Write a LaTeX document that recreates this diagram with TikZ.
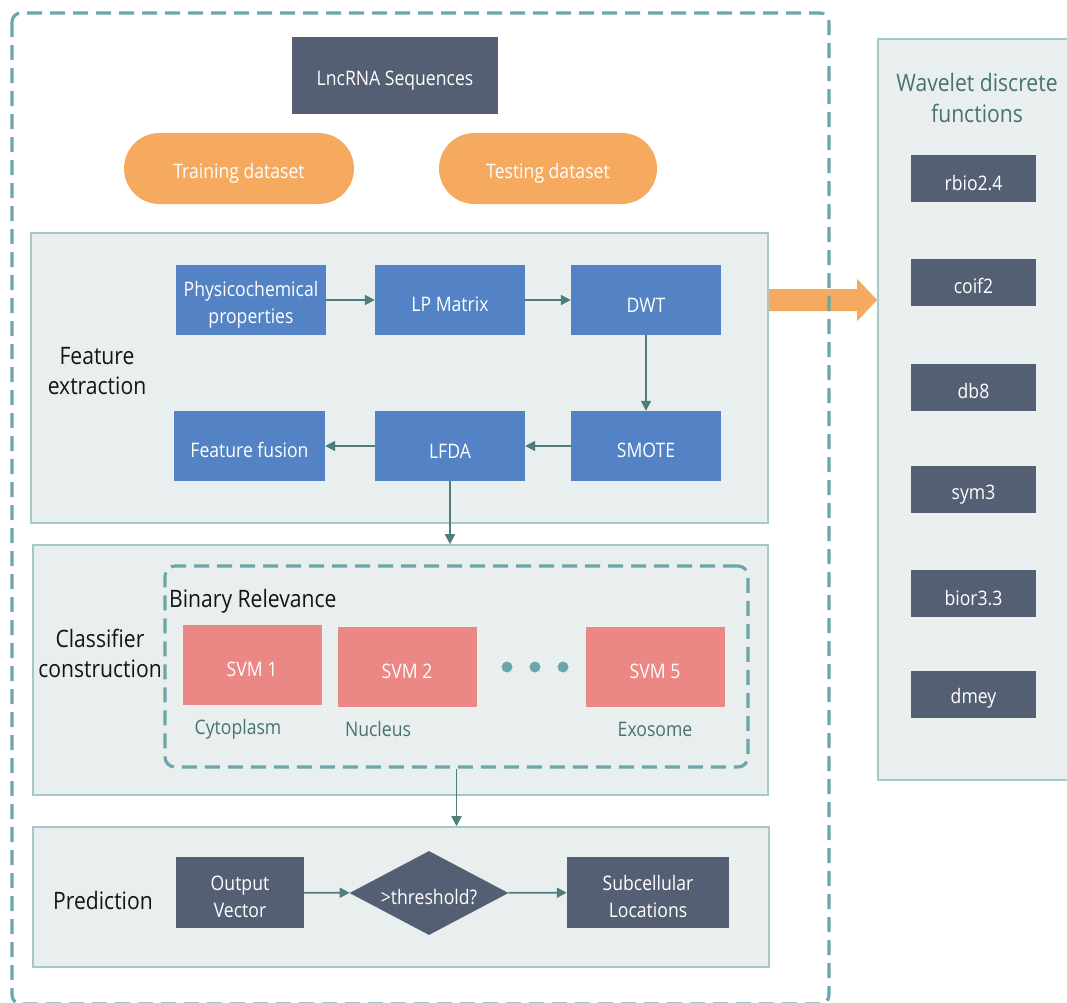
\documentclass[tikz,border=0pt]{standalone}
\usepackage{fontspec}
\setmainfont{Open Sans}[FakeStretch=0.88]
\usetikzlibrary{shapes.geometric,arrows.meta,calc}

\definecolor{slate}{HTML}{555F73}
\definecolor{peach}{HTML}{F5AA60}
\definecolor{steel}{HTML}{5383C4}
\definecolor{salmon}{HTML}{EB8784}
\definecolor{panelfill}{HTML}{E9EFEF}
\definecolor{panelline}{HTML}{A5C8CB}
\definecolor{dashteal}{HTML}{6BA6AB}
\definecolor{arrowteal}{HTML}{4F7C7C}
\definecolor{labelteal}{HTML}{48716F}

\newcommand\fsz[2]{\fontsize{#1}{#2}\selectfont}
% invisible rule that lowers box text a little inside its box
\newcommand\lowerstrut{\vrule height 1.2em depth 0pt width 0pt}

\tikzset{
  panel/.style={rectangle, draw=panelline, fill=panelfill, line width=1.6pt, inner sep=0pt},
  blk/.style={rectangle, inner sep=0pt, text=white, align=center, font=\fsz{20}{27},
              execute at begin node=\lowerstrut},
  bluebox/.style={blk, fill=steel, minimum width=150pt, minimum height=70pt},
  slatebox/.style={blk, fill=slate},
  svmbox/.style={blk, fill=salmon, minimum width=139pt, minimum height=80pt},
  wbox/.style={slatebox, minimum width=125pt, minimum height=47pt},
  pill/.style={blk, fill=peach, rounded corners=35.5pt, minimum height=71pt},
  tag/.style={font=\fsz{24}{30}, text=black!92, align=center, inner sep=0pt},
  loc/.style={font=\fsz{20}{24}, text=labelteal, inner sep=0pt},
  arr/.style={draw=arrowteal, line width=1.8pt, -{Triangle[length=10pt,width=10pt]}},
  dashframe/.style={draw=dashteal, line width=3.2pt, dash pattern=on 15pt off 8pt},
  dotmark/.style={circle, fill=dashteal, inner sep=0pt, minimum size=11pt}
}

\begin{document}
\begin{tikzpicture}[x=1pt, y=-1pt]
\useasboundingbox (0,0) rectangle (1067,1002);

% source and datasets
\node[slatebox, minimum width=206pt, minimum height=77pt] (seq) at (395,75.5) {LncRNA Sequences};
\node[pill, minimum width=230pt] (train) at (239,168.5) {Training dataset};
\node[pill, minimum width=218pt] (test) at (548,168.5) {Testing dataset};

% feature extraction stage
\node[panel, minimum width=737pt, minimum height=290pt] (fepanel) at (399.5,378) {};
\node[tag] (felabel) at (97,371) {Feature\\extraction};
\node[bluebox] (phys) at (251,300) {\lowerstrut Physicochemical\\properties};
\node[bluebox] (lpm) at (450,300) {LP Matrix};
\node[bluebox] (dwt) at (646,300) {DWT};
\node[bluebox, minimum width=151pt] (fuse) at (249.5,446) {Feature fusion};
\node[bluebox] (lfda) at (450,446) {LFDA};
\node[bluebox] (smote) at (646,446) {SMOTE};

% classifier construction stage
\node[panel, minimum width=735pt, minimum height=250pt] (clpanel) at (400.5,670) {};
\node[tag] (cllabel) at (100,653.5) {Classifier\\construction};
\node[dashframe, rectangle, rounded corners=10pt, inner sep=0pt,
      minimum width=583pt, minimum height=201pt] (br) at (456.5,666.5) {};
\node[tag, anchor=west] (brlabel) at (169,601) {Binary Relevance};
\node[svmbox] (svm1) at (252,664.5) {SVM 1};
\node[svmbox] (svm2) at (407,667) {SVM 2};
\node[svmbox] (svm5) at (655,667) {SVM 5};
\node[dotmark] (d1) at (507,667) {};
\node[dotmark] (d2) at (535,667) {};
\node[dotmark] (d3) at (563,667) {};
\node[loc] (cyto) at (238,729) {Cytoplasm};
\node[loc] (nucl) at (378,729) {Nucleus};
\node[loc] (exo) at (655,729) {Exosome};

% prediction stage
\node[panel, minimum width=736pt, minimum height=140pt] (prpanel) at (401,897) {};
\node[tag] (prlabel) at (103,900) {Prediction};
\node[slatebox, minimum width=128pt, minimum height=71pt] (outv) at (240,892.5) {\lowerstrut Output\\Vector};
\node[blk, diamond, aspect=1.9, fill=slate, minimum width=159pt, minimum height=84pt] (thr) at (429,893) {>threshold?};
\node[slatebox, minimum width=162pt, minimum height=71pt] (subc) at (648,892.5) {\lowerstrut Subcellular\\Locations};

% wavelet family panel
\node[panel, minimum width=222pt, minimum height=741pt] (wpanel) at (989,409.5) {};
\node[font=\fsz{24}{31}, text=labelteal, align=center, inner sep=0pt] (wtitle) at (977,97.5) {Wavelet discrete\\functions};
\node[wbox] (w1) at (973.5,178.5) {rbio2.4};
\node[wbox] (w2) at (973.5,282) {coif2};
\node[wbox] (w3) at (973.5,387) {db8};
\node[wbox] (w4) at (973.5,489.5) {sym3};
\node[wbox] (w5) at (973.5,593.5) {bior3.3};
\node[wbox] (w6) at (973.5,694) {dmey};

% flow connectors
\draw[arr] (phys) -- (lpm);
\draw[arr] (lpm) -- (dwt);
\draw[arr] (dwt) -- (smote);
\draw[arr] (smote) -- (lfda);
\draw[arr] (lfda) -- (fuse);
\draw[arr] (lfda.south) -- (lfda.south |- clpanel.north);
\draw[arr] (br.south) -- (br.south |- prpanel.north);
\draw[arr] (outv) -- (thr);
\draw[arr] (thr) -- (subc);

% wide arrow towards the wavelet panel
\fill[peach] ($(fepanel.east |- dwt)+(0,-11)$)
  -- ($(wpanel.west |- dwt)+(-20,-11)$)
  -- ($(wpanel.west |- dwt)+(-20,-21)$)
  -- (wpanel.west |- dwt)
  -- ($(wpanel.west |- dwt)+(-20,21)$)
  -- ($(wpanel.west |- dwt)+(-20,11)$)
  -- ($(fepanel.east |- dwt)+(0,11)$) -- cycle;

% dashed frame around the whole pipeline
\draw[dashframe, rounded corners=9pt] (12,13) rectangle (829,1004);
\end{tikzpicture}
\end{document}
